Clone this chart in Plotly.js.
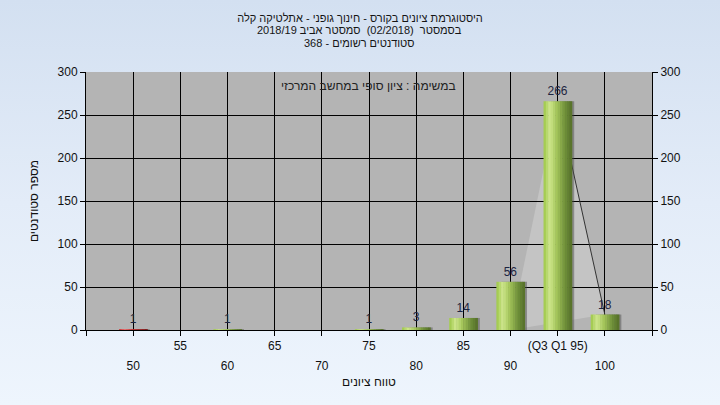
<!DOCTYPE html>
<html>
<head>
<meta charset="utf-8">
<script src="https://cdn.plot.ly/plotly-3.0.1.min.js"></script>
<style>
  html, body { margin: 0; padding: 0; }
  body { width: 720px; height: 405px; overflow: hidden;
         background: linear-gradient(to bottom, #d3e0f1 0%, #e3ecf8 50%, #eef5fd 100%); }
  #chart { width: 720px; height: 405px; }
</style>
</head>
<body>
<div id="chart"></div>
<script>
// ---- data ----
const grades = [50, 55, 60, 65, 70, 75, 80, 85, 90, 95, 100];
const counts = [1, 0, 1, 0, 0, 1, 3, 14, 56, 266, 18];
const tickLabels = ['50', '55', '60', '65', '70', '75', '80', '85', '90', '(Q3 Q1 95)', '100'];
const distX = [90, 95, 100];
const distY = [0, 266, 18];

const titleLines = [
  'היסטוגרמת ציונים בקורס - חינוך גופני - אתלטיקה קלה',
  'בסמסטר  (02/2018)  סמסטר אביב 2018/19',
  'סטודנטים רשומים - 368'
];
const noteText = 'במשימה : ציון סופי במחשב המרכזי';
const xTitle = 'טווח ציונים';
const yTitle = 'מספר סטודנטים';

// ---- styling ----
const FONT = 'Liberation Sans, Arial, sans-serif';
const barW = 3.0;          // in grade units (category spacing = 5)
const nSlices = 12;
const sliceW = barW / nSlices;

function lerp(a, b, t) { return a + (b - a) * t; }
function gradColor(stops, t) {
  for (let i = 0; i < stops.length - 1; i++) {
    const [t0, c0] = stops[i], [t1, c1] = stops[i + 1];
    if (t >= t0 && t <= t1) {
      const u = (t - t0) / (t1 - t0);
      return 'rgb(' + c0.map((v, k) => Math.round(lerp(v, c1[k], u))).join(',') + ')';
    }
  }
  const c = stops[stops.length - 1][1];
  return 'rgb(' + c.join(',') + ')';
}
const greenStops = [[0, [156, 198, 70]], [0.22, [206, 230, 140]], [0.45, [166, 200, 92]], [0.75, [112, 145, 58]], [1, [84, 110, 40]]];
const redStops = [[0, [200, 40, 40]], [0.22, [240, 110, 110]], [0.45, [205, 45, 45]], [1, [120, 20, 20]]];

const traces = [];
// shadow
traces.push({
  type: 'bar', x: grades, y: counts, width: barW * 0.9, offset: -barW / 2 + 0.55,
  marker: { color: 'rgba(70,70,70,0.45)', line: { width: 0 } },
  hoverinfo: 'skip', showlegend: false
});
for (let i = 0; i < nSlices; i++) {
  const t = (i + 0.5) / nSlices;
  traces.push({
    type: 'bar', x: grades, y: counts,
    width: sliceW * 1.2, offset: -barW / 2 + i * sliceW,
    marker: { color: grades.map(g => g < 55 ? gradColor(redStops, t) : gradColor(greenStops, t)), line: { width: 0 } },
    hoverinfo: 'skip', showlegend: false
  });
}
// value labels
traces.push({
  type: 'bar', x: grades, y: counts, xaxis: 'x2', yaxis: 'y2',
  width: barW, offset: -barW / 2,
  marker: { color: 'rgba(0,0,0,0)', line: { width: 0 } },
  text: counts.map(v => v > 0 ? String(v) : ''),
  textposition: 'outside', cliponaxis: false,
  textfont: { family: FONT, size: 12, color: '#1c2440' },
  hoverinfo: 'skip', showlegend: false
});

const edgeTicks = [45].concat(grades, [105]);
const rowOne = [''].concat(tickLabels.map((l, i) => i % 2 === 1 ? l : ''), ['']);
const rowTwo = [''].concat(tickLabels.map((l, i) => i % 2 === 0 ? l : ''), ['']);

const polyPath = 'M' + distX.map((x, i) => x + ',' + distY[i]).join(' L') + ' Z';

// plot area: left 86px, width 566px; top 72px, bottom 330px
const pyPaper = px => (330 - px) / 258;
const pxPaper = px => (px - 86) / 566;

const layout = {
  width: 720, height: 405,
  paper_bgcolor: 'rgba(0,0,0,0)',
  plot_bgcolor: '#b4b4b4',
  margin: { l: 86, r: 68, t: 72, b: 75 },
  barmode: 'overlay',
  showlegend: false,
  font: { family: FONT, size: 12, color: '#111' },
  title: {
    text: titleLines[0],
    x: 0.5, xanchor: 'center', xref: 'container',
    y: 1 - 18 / 405, yanchor: 'middle', yref: 'container',
    font: { family: FONT, size: 11, color: '#151515' }
  },
  xaxis: {
    range: [45, 105], tickmode: 'array', tickvals: edgeTicks, ticktext: rowOne,
    showgrid: true, gridcolor: '#000', gridwidth: 1,
    showline: true, linecolor: '#000', linewidth: 1,
    ticks: 'outside', ticklen: 5, tickcolor: '#000',
    tickfont: { family: FONT, size: 12, color: '#111' },
    zeroline: false, fixedrange: true,
    title: { text: xTitle, font: { family: FONT, size: 12, color: '#111' }, standoff: 25 }
  },
  xaxis2: {
    overlaying: 'x', anchor: 'y2', side: 'bottom', matches: 'x',
    range: [45, 105], tickmode: 'array', tickvals: edgeTicks, ticktext: rowTwo,
    showgrid: false, showline: false, ticks: '', ticklabelstandoff: 27,
    tickfont: { family: FONT, size: 12, color: '#111' }, zeroline: false
  },
  yaxis: {
    range: [0, 300], dtick: 50, tick0: 0,
    showgrid: true, gridcolor: '#000', gridwidth: 1,
    showline: true, linecolor: '#000', linewidth: 1,
    ticks: 'outside', ticklen: 5, tickcolor: '#000',
    tickfont: { family: FONT, size: 12, color: '#111' },
    zeroline: false, fixedrange: true,
    title: { text: yTitle, font: { family: FONT, size: 12, color: '#111' }, standoff: 16 }
  },
  yaxis2: {
    overlaying: 'y', anchor: 'x2', side: 'right', range: [0, 300], dtick: 50, tick0: 0,
    showgrid: false, showline: true, linecolor: '#000', linewidth: 1,
    ticks: 'outside', ticklen: 5, tickcolor: '#000',
    tickfont: { family: FONT, size: 12, color: '#111' }, zeroline: false
  },
  shapes: [
    { type: 'path', xref: 'x', yref: 'y', path: polyPath, fillcolor: '#c4c4c4', line: { width: 0 }, layer: 'below' },
    { type: 'line', xref: 'x', yref: 'y', x0: distX[1], y0: distY[1], x1: distX[2], y1: distY[2],
      line: { color: '#333', width: 1 }, layer: 'between' }
  ],
  annotations: [
    { text: titleLines[1], xref: 'paper', yref: 'paper', x: pxPaper(359), y: pyPaper(30.5), xanchor: 'center', yanchor: 'middle',
      showarrow: false, font: { family: FONT, size: 11, color: '#151515' } },
    { text: titleLines[2], xref: 'paper', yref: 'paper', x: pxPaper(359), y: pyPaper(43), xanchor: 'center', yanchor: 'middle',
      showarrow: false, font: { family: FONT, size: 11, color: '#151515' } },
    { text: noteText, xref: 'paper', yref: 'paper', x: pxPaper(368), y: pyPaper(86), yanchor: 'middle', xanchor: 'center',
      showarrow: false, font: { family: FONT, size: 12, color: '#222' } }
  ]
};

Plotly.newPlot('chart', traces, layout, { displayModeBar: false, staticPlot: true });
</script>
</body>
</html>
